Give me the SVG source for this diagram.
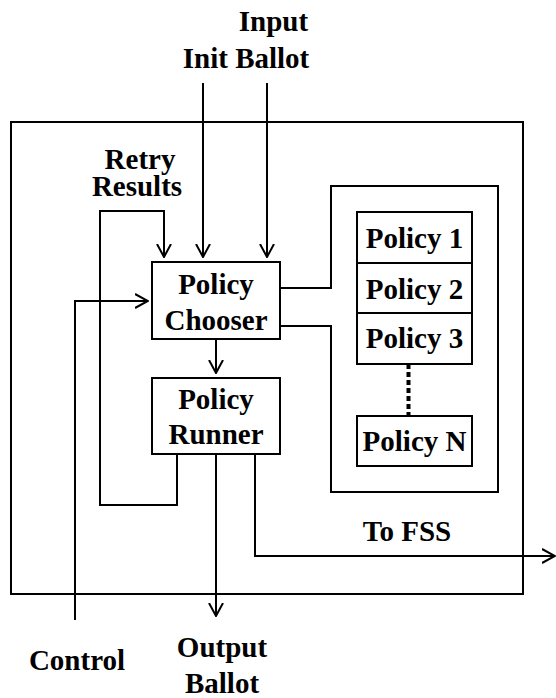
<svg xmlns="http://www.w3.org/2000/svg" width="556" height="698" viewBox="0 0 556 698">
  <style>
    .box { fill: #fff; stroke: #000; stroke-width: 2; }
    .wire { fill: none; stroke: #000; stroke-width: 2; }
  </style>
  <defs>
    <marker id="vee" viewBox="0 0 14 16" refX="13" refY="8" markerWidth="14" markerHeight="16" markerUnits="userSpaceOnUse" orient="auto">
      <path d="M0,1 L13,8 L0,15" fill="none" stroke="#000" stroke-width="2"/>
    </marker>
  </defs>

  <rect width="556" height="698" fill="#fff"/>

  <!-- system boundary -->
  <g id="system">
    <rect x="11" y="122" width="512" height="472" fill="none" stroke="#000" stroke-width="2"/>
  </g>

  <!-- policy container, its left side opening to the chooser -->
  <g id="policy-set">
    <path class="wire" d="M280,288 H331 V186 H498 V492 H331 V326 H280"/>
  </g>

  <g id="connectors">
    <!-- inputs -->
    <line class="wire" x1="203" y1="83" x2="203" y2="257" marker-end="url(#vee)"/>
    <line class="wire" x1="267" y1="83" x2="267" y2="257" marker-end="url(#vee)"/>
    <!-- retry loop -->
    <polyline class="wire" points="177,454 177,505 100,505 100,211 164,211 164,257" marker-end="url(#vee)"/>
    <!-- control -->
    <polyline class="wire" points="75,620 75,301 148,301" marker-end="url(#vee)"/>
    <!-- chooser to runner -->
    <line class="wire" x1="216" y1="339" x2="216" y2="373" marker-end="url(#vee)"/>
    <!-- output ballot -->
    <line class="wire" x1="216" y1="454" x2="216" y2="616" marker-end="url(#vee)"/>
    <!-- to FSS -->
    <polyline class="wire" points="255,454 255,556 555,556" marker-end="url(#vee)"/>
    <!-- ellipsis between Policy 3 and Policy N -->
    <line x1="408.5" y1="364" x2="408.5" y2="416" stroke="#000" stroke-width="4" stroke-dasharray="5 3"/>
  </g>

  <!-- every label shares one bold serif face -->
  <g font-family="Liberation Serif, Times New Roman, serif" font-weight="bold" font-size="29" text-anchor="middle" fill="#000">
    <g id="chooser">
      <rect class="box" x="152" y="262" width="128" height="77"/>
      <text x="216" y="294">Policy</text>
      <text x="216" y="330">Chooser</text>
    </g>

    <g id="runner">
      <rect class="box" x="152" y="378" width="128" height="76"/>
      <text x="216" y="409">Policy</text>
      <text x="216" y="444">Runner</text>
    </g>

    <g id="policy-1">
      <rect class="box" x="357" y="212" width="115" height="51"/>
      <text x="414.5" y="248">Policy 1</text>
    </g>
    <g id="policy-2">
      <rect class="box" x="357" y="263" width="115" height="50"/>
      <text x="414.5" y="299">Policy 2</text>
    </g>
    <g id="policy-3">
      <rect class="box" x="357" y="313" width="115" height="51"/>
      <text x="414.5" y="348">Policy 3</text>
    </g>
    <g id="policy-n">
      <rect class="box" x="357" y="416" width="115" height="50"/>
      <text x="414.5" y="451">Policy N</text>
    </g>

    <g id="labels">
      <text x="273.5" y="31">Input</text>
      <text x="246" y="68">Init Ballot</text>
      <text x="140" y="169">Retry</text>
      <text x="137" y="196">Results</text>
      <text x="407" y="541">To FSS</text>
      <text x="77" y="670">Control</text>
      <text x="222" y="657">Output</text>
      <text x="222" y="693">Ballot</text>
    </g>
  </g>
</svg>
